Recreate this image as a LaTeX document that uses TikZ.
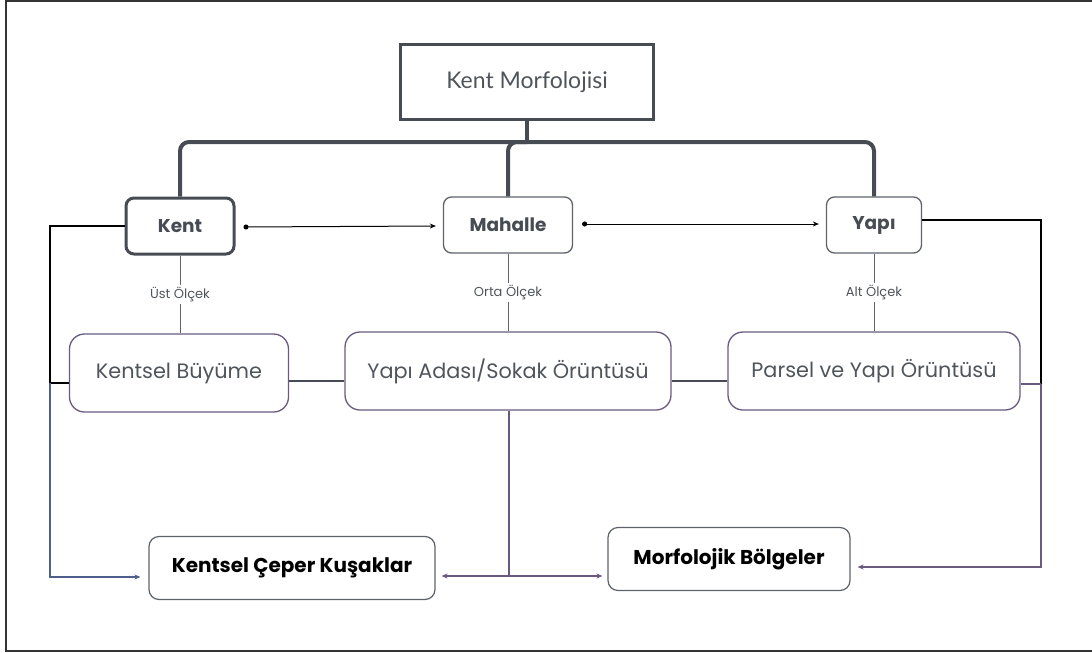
\documentclass[tikz,border=0pt]{standalone}
\usepackage{fontspec}
\setmainfont{Poppins}
\newfontfamily\titlefont{Lato}
\usetikzlibrary{arrows.meta,positioning}

\definecolor{darkslate}{HTML}{474C54}
\definecolor{midgray}{HTML}{5E636B}
\definecolor{plum}{HTML}{6B5A80}
\definecolor{steelblue}{HTML}{4F5F8C}
\definecolor{textgray}{HTML}{50555C}

\tikzset{
	scalebox/.style={draw=midgray, line width=1.3pt, rounded corners=8pt, fill=white,
		font=\bfseries\fontsize{18.5}{21}\selectfont, text=darkslate, minimum height=56pt},
	patternbox/.style={draw=plum, line width=1.3pt, rounded corners=15pt, fill=white,
		font=\fontsize{20.8}{24}\selectfont, text=textgray, minimum height=78pt},
	resultbox/.style={draw=midgray, line width=1.2pt, rounded corners=10pt, fill=white,
		font=\bfseries\fontsize{20}{24}\selectfont, text=black, minimum height=63pt},
	levellabel/.style={fill=white, inner sep=2pt, font=\fontsize{13}{15}\selectfont, text=textgray},
	bracket/.style={draw=darkslate, line width=4pt, rounded corners=9pt},
	flow/.style={line width=1pt, {Circle[length=5pt]}-{Stealth[length=6pt,width=5pt]}},
	feed/.style={line width=1.2pt, -{Stealth[length=6pt,width=5pt]}}
}

\begin{document}
\begin{tikzpicture}[x=1pt,y=-1pt]
	\useasboundingbox (0,0) rectangle (1092,653);
	% frame
	\draw[line width=1.5pt, black!80] (1092,1) -- (6,1) -- (6,651) -- (1092,651);

	% top
	\node[draw=darkslate, line width=3pt, minimum width=253pt, minimum height=75pt,
		font=\titlefont\fontsize{23}{26}\selectfont, text=textgray] (morf) at (527,82) {Kent Morfolojisi};

	% scales
	\node[scalebox, draw=darkslate, line width=3pt, minimum width=108pt] (kent) at (180,226) {Kent};
	\node[scalebox, minimum width=129pt] (mahalle) at (508,225) {Mahalle};
	\node[scalebox, minimum width=95pt] (yapi) at (874,225) {Yapı};

	% patterns
	\node[patternbox, minimum width=219pt] (buyume) at (179,373) {Kentsel Büyüme};
	\node[patternbox, minimum width=326pt] (ada) at (508,371) {Yapı Adası/Sokak Örüntüsü};
	\node[patternbox, minimum width=292pt] (parsel) at (874,371) {Parsel ve Yapı Örüntüsü};

	% results
	\node[resultbox, minimum width=286pt] (ceper) at (292,568) {Kentsel Çeper Kuşaklar};
	\node[resultbox, minimum width=242pt] (bolge) at (729,559) {Morfolojik Bölgeler};

	% bracket
	\coordinate (bar) at (527,142);
	\draw[bracket] (kent.north) |- (bar) -| (yapi.north);
	\draw[bracket] (mahalle.north) |- (bar);
	\draw[bracket, rounded corners=0pt] (morf.south) -- (bar);

	% horizontal flow
	\draw[flow] ([xshift=8pt,yshift=-1pt]kent.east) -- ([xshift=-7pt,yshift=-1pt]mahalle.west);
	\draw[flow] ([xshift=9pt,yshift=1pt]mahalle.east) -- ([xshift=-7pt,yshift=1pt]yapi.west);

	% levels
	\draw[midgray, line width=1pt] (kent.south) -- node[levellabel] {Üst Ölçek} (kent.south |- buyume.north);
	\draw[midgray, line width=1pt] (mahalle.south) -- node[levellabel] {Orta Ölçek} (mahalle.south |- ada.north);
	\draw[midgray, line width=1pt] (yapi.south) -- node[levellabel] {Alt Ölçek} (yapi.south |- parsel.north);
	\draw[darkslate, line width=1.2pt] ([yshift=-8pt]buyume.east) -- ([yshift=-10pt]ada.west);
	\draw[darkslate, line width=1.2pt] ([yshift=-10pt]ada.east) -- ([yshift=-10pt]parsel.west);

	% left branch
	\coordinate (lj) at (50,383);
	\draw[black, line width=1.2pt] (kent.west) -| (lj) -- (buyume.west |- lj);
	\draw[feed, steelblue] (lj) |- ([xshift=-8pt,yshift=-9pt]ceper.west);

	% right branch
	\coordinate (rj) at (1041,384);
	\draw[black, line width=1.2pt] ([yshift=5pt]yapi.east) -| (rj);
	\draw[plum, line width=1.2pt] (parsel.east |- rj) -- (rj);
	\draw[feed, plum] (rj) |- ([xshift=7pt,yshift=-8pt]bolge.east);

	% middle branch
	\coordinate (mj) at (509,576);
	\draw[plum, line width=1.2pt] (ada.south -| mj) -- (mj);
	\draw[feed, plum] (mj) -- ([xshift=6pt]ceper.east |- mj);
	\draw[feed, plum] (mj) -- ([xshift=-5pt]bolge.west |- mj);
\end{tikzpicture}
\end{document}
